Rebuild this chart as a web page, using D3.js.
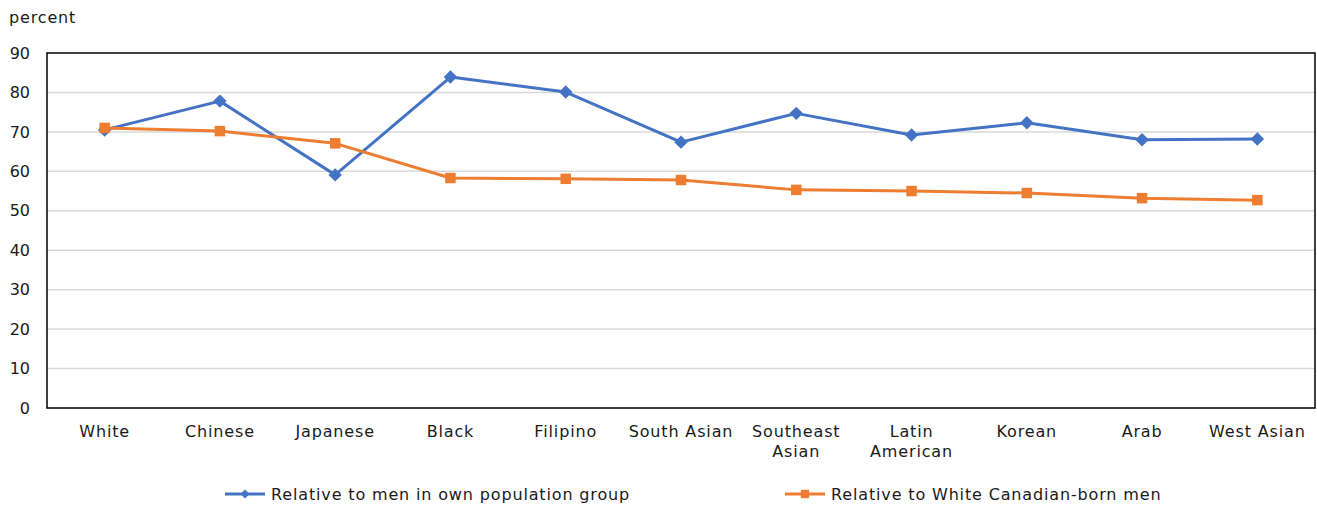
<!DOCTYPE html>
<html>
<head>
<meta charset="utf-8">
<script src="https://cdn.jsdelivr.net/npm/d3@7"></script>
<style>
  body { margin: 0; background: #fff; }
  svg text { font-family: "DejaVu Sans", Verdana, sans-serif; fill: #1a1a1a; }
  .lbl { letter-spacing: 0.85px; }
</style>
</head>
<body>
<div id="chart"></div>
<script>
var categories = ["White", "Chinese", "Japanese", "Black", "Filipino", "South Asian",
  "Southeast Asian", "Latin American", "Korean", "Arab", "West Asian"]
var labelLines = [["White"], ["Chinese"], ["Japanese"], ["Black"], ["Filipino"], ["South Asian"],
  ["Southeast", "Asian"], ["Latin", "American"], ["Korean"], ["Arab"], ["West Asian"]]
var ownGroup = [70.5, 77.8, 59.1, 83.9, 80.1, 67.4, 74.7, 69.2, 72.3, 68.0, 68.2]
var whiteBorn = [71.0, 70.2, 67.1, 58.3, 58.1, 57.8, 55.3, 55.0, 54.5, 53.2, 52.7]
var seriesNames = ["Relative to men in own population group", "Relative to White Canadian-born men"]
var yTicks = [0, 10, 20, 30, 40, 50, 60, 70, 80, 90]

var width = 1317, height = 506
var margin = { top: 53, right: 2, bottom: 98, left: 47 }

var svg = d3.select("#chart").append("svg")
    .attr("width", width)
    .attr("height", height)

var x = d3.scaleBand()
    .domain(categories)
    .range([margin.left, width - margin.right])

var y = d3.scaleLinear()
    .domain([0, 90])
    .range([height - margin.bottom, margin.top])

// gridlines
svg.append("g")
    .selectAll("line")
    .data(yTicks.filter(function(d){ return d > 0 && d < 90 }))
    .enter().append("line")
    .attr("x1", margin.left)
    .attr("x2", width - margin.right)
    .attr("y1", function(d){ return y(d) })
    .attr("y2", function(d){ return y(d) })
    .attr("stroke", "#d9d9d9")
    .attr("stroke-width", 1.5)

// frame
svg.append("rect")
    .attr("x", margin.left)
    .attr("y", margin.top)
    .attr("width", width - margin.right - margin.left)
    .attr("height", y(0) - margin.top)
    .attr("fill", "none")
    .attr("stroke", "#000")
    .attr("stroke-width", 1.5)

// y axis labels
var yAxis = d3.axisLeft(y).tickValues(yTicks).tickSize(0).tickPadding(17)
svg.append("g")
    .attr("transform", "translate(" + margin.left + ",0)")
    .call(yAxis)
    .call(function(g){ g.select(".domain").remove() })
    .selectAll("text")
    .style("font-size", "16px")
    .style("font-family", "'DejaVu Sans', Verdana, sans-serif")
    .attr("fill", "#1a1a1a")

svg.append("text")
    .attr("class", "lbl")
    .attr("x", 9)
    .attr("y", 23)
    .style("font-size", "16px")
    .text("percent")

// x labels
var xLab = svg.append("g")
    .selectAll("text")
    .data(categories)
    .enter().append("text")
    .attr("class", "lbl")
    .attr("x", function(d){ return x(d) + x.bandwidth() / 2 })
    .attr("y", y(0) + 29)
    .attr("text-anchor", "middle")
    .style("font-size", "16px")
xLab.selectAll("tspan")
    .data(function(d, i){ return labelLines[i] })
    .enter().append("tspan")
    .attr("x", function(){ return this.parentNode.getAttribute("x") })
    .attr("dy", function(d, i){ return i === 0 ? 0 : 20 })
    .text(function(d){ return d })

var cx = function(d, i){ return x(categories[i]) + x.bandwidth() / 2 }
var line = d3.line()
    .x(cx)
    .y(function(d){ return y(d) })

var colors = ["#4472c4", "#ed7d31"]
var allSeries = [ownGroup, whiteBorn]

allSeries.forEach(function(vals, s){
  svg.append("path")
      .datum(vals)
      .attr("d", line)
      .attr("fill", "none")
      .attr("stroke", colors[s])
      .attr("stroke-width", 3)
      .attr("stroke-linejoin", "round")
  var size = s === 0 ? 90 : 110
  svg.append("g").selectAll("path")
      .data(vals)
      .enter().append("path")
      .attr("transform", function(d, i){ return "translate(" + cx(d, i) + "," + y(d) + ")" + (s === 0 ? " rotate(45)" : "") })
      .attr("d", d3.symbol(d3.symbolSquare, size))
      .attr("fill", colors[s])
})

// legend
var legX = [225, 785]
seriesNames.forEach(function(name, s){
  var g = svg.append("g").attr("transform", "translate(" + legX[s] + ",494)")
  g.append("line")
      .attr("x1", 0).attr("x2", 40)
      .attr("stroke", colors[s]).attr("stroke-width", 3)
  g.append("path")
      .attr("transform", "translate(20,0)" + (s === 0 ? " rotate(45)" : ""))
      .attr("d", d3.symbol(d3.symbolSquare, s === 0 ? 40 : 70))
      .attr("fill", colors[s])
  g.append("text")
      .attr("class", "lbl")
      .attr("x", 46)
      .attr("y", 6)
      .style("font-size", "16px")
      .text(name)
})
</script>
</body>
</html>
